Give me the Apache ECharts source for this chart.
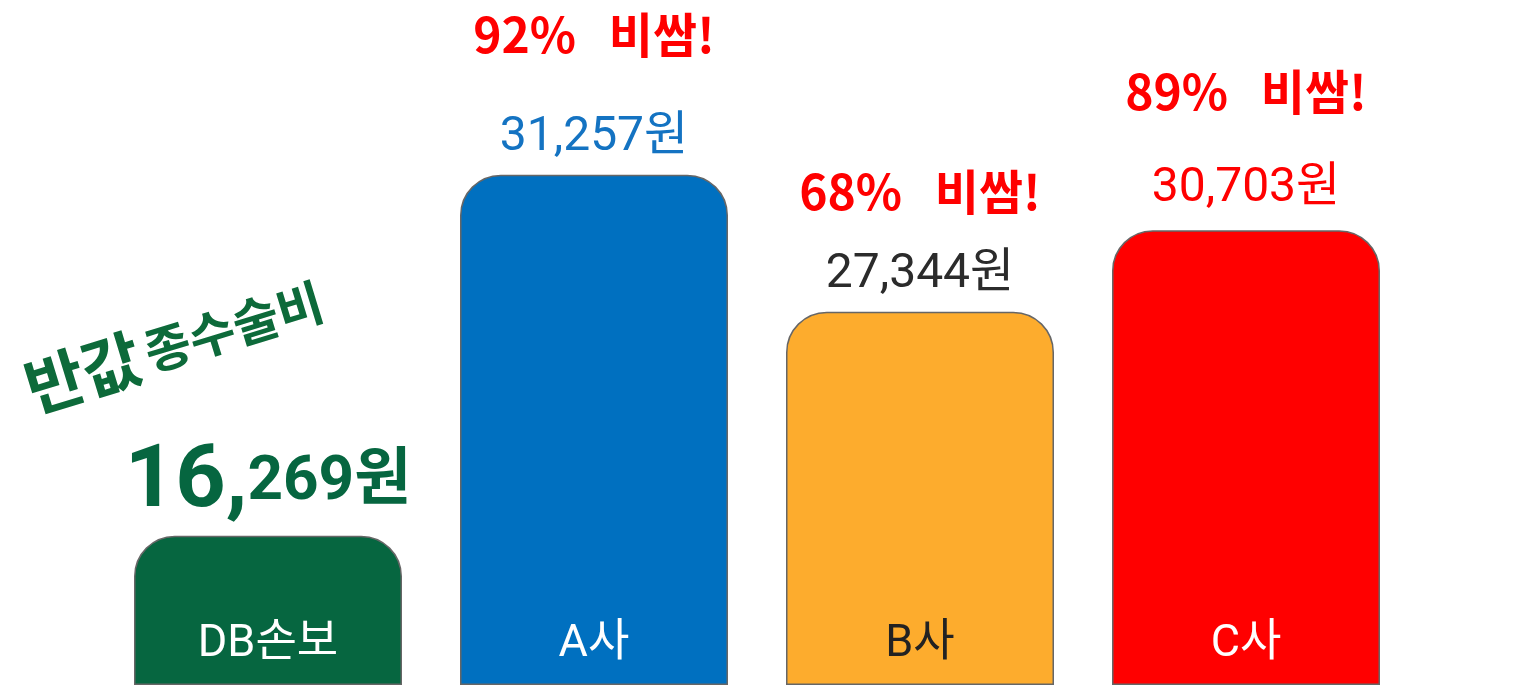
<!DOCTYPE html>
<html>
<head>
<meta charset="utf-8">
<script src="https://cdn.jsdelivr.net/npm/echarts@6/dist/echarts.min.js"></script>
<style>
  html, body { margin: 0; padding: 0; background: #fff; }
  #chart { width: 1527px; height: 687px; }
</style>
</head>
<body>
<div id="chart"></div>
<script>
// 데이터
const categories = ['DB손보', 'A사', 'B사', 'C사'];
const prices = [16269, 31257, 27344, 30703];              // 막대 위 금액(원)
const barLevels = [21.8, 74.5, 54.5, 66.4];               // 그림에 그려진 막대 높이 (가격에 비례하지 않음, 0~100)
const notes = ['', '92%   비쌈!', '68%   비쌈!', '89%   비쌈!'];
const dbNoteA = '반값';
const dbNoteB = '종수술비';

const barColors = ['#066640', '#0070C0', '#FDAC2D', '#FF0000'];
const valueColors = ['#066640', '#1473C2', '#2b2b2b', '#FF0000'];
const nameColors = ['#ffffff', '#ffffff', '#222222', '#ffffff'];
const noteGaps = [0, 156, 116, 144];   // 메모 줄 높이
const valueDist = [8, 12, 12, 16];

const FONT = "Roboto, 'Noto Sans CJK KR', sans-serif";
const KR = "'Noto Sans CJK KR', sans-serif";
const fmt = v => v.toLocaleString('en-US');

const chart = echarts.init(document.getElementById('chart'));

const barData = barLevels.map((v, i) => ({
  value: v,
  itemStyle: { color: barColors[i] },
  label: { color: nameColors[i] }
}));

const labelData = barLevels.map((v, i) => {
  let label;
  if (i === 0) {
    const s = fmt(prices[i]);
    const cut = s.indexOf(',') + 1;
    label = {
      show: true, position: 'top', distance: valueDist[i],
      formatter: '{big|' + s.slice(0, cut) + '}{mid|' + s.slice(cut) + '원}',
      rich: {
        big: { fontSize: 88, fontWeight: 'bold', color: valueColors[i], fontFamily: FONT },
        mid: { fontSize: 62, fontWeight: 'bold', color: valueColors[i], fontFamily: FONT }
      }
    };
  } else {
    label = {
      show: true, position: 'top', distance: valueDist[i],
      formatter: '{note|' + notes[i] + '}\n{val|' + fmt(prices[i]) + '원}',
      rich: {
        note: { fontSize: 48, fontWeight: 'bold', color: '#FF0000', lineHeight: noteGaps[i], fontFamily: KR },
        val: { fontSize: 48, color: valueColors[i], lineHeight: 50, fontFamily: FONT }
      }
    };
  }
  return { value: v, label };
});

const dbNoteData = barLevels.map((v, i) => ({
  value: v,
  label: i === 0 ? {
    show: true, position: 'top', distance: 0, rotate: 17,
    offset: [-34, -178],
    formatter: '{a|' + dbNoteA + '}  {b|' + dbNoteB + '}',
    rich: {
      a: { fontSize: 64, fontWeight: 'bold', color: '#0d6a3a', fontFamily: KR },
      b: { fontSize: 50, fontWeight: 'bold', color: '#0d6a3a', fontFamily: KR }
    }
  } : { show: false }
}));

chart.setOption({
  animation: false,
  backgroundColor: '#ffffff',
  grid: { left: 105, right: 118, top: 0, bottom: 2, containLabel: false },
  xAxis: {
    type: 'category', data: categories,
    axisLine: { show: false }, axisTick: { show: false }, axisLabel: { show: false }
  },
  yAxis: {
    type: 'value', min: 0, max: 100,
    show: false, splitLine: { show: false }
  },
  series: [
    {
      type: 'bar', data: barData, barWidth: 268, z: 2,
      itemStyle: { borderRadius: [40, 40, 0, 0], borderColor: '#666666', borderWidth: 1.5 },
      label: {
        show: true, position: 'insideBottom', distance: 18,
        formatter: p => p.name, fontSize: 45, fontFamily: FONT
      }
    },
    {
      type: 'bar', data: labelData, barWidth: 268, barGap: '-100%', z: 3,
      itemStyle: { color: 'rgba(0,0,0,0)' }, silent: true
    },
    {
      type: 'bar', data: dbNoteData, barWidth: 268, barGap: '-100%', z: 3,
      itemStyle: { color: 'rgba(0,0,0,0)' }, silent: true
    }
  ]
});
</script>
</body>
</html>
